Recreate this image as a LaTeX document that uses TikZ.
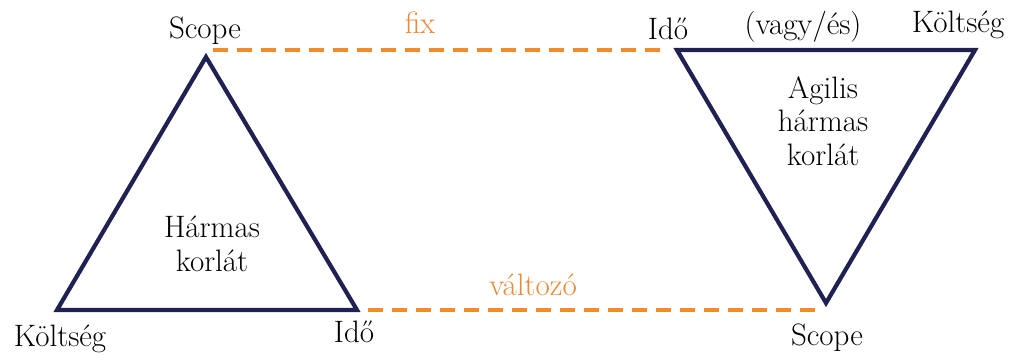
\documentclass[tikz,border=0pt]{standalone}
\usepackage{tikz}
\usetikzlibrary{positioning}
\definecolor{navy}{HTML}{1E2152}
\definecolor{dashorange}{HTML}{F28C28}
\definecolor{textorange}{HTML}{E8893A}

\begin{document}
\begin{tikzpicture}[x=0.5pt, y=-0.5pt,
    label text/.style={inner sep=0pt, font=\fontsize{15.5}{16.8}\selectfont},
    inside text/.style={label text, align=center},
    side/.style={draw=navy, line width=2.1pt},
    link/.style={draw=dashorange, line width=2pt, dash pattern=on 7.5pt off 4.5pt},
    link text/.style={label text, text=textorange}]
    \useasboundingbox (0,0) rectangle (1013,360);
    % classic triangle
    \coordinate (lscope) at (206,57);
    \coordinate (lcost) at (57,310);
    \coordinate (ltime) at (357,310);
    \draw [side] (lscope) -- (lcost) -- (ltime) -- cycle;
    \node [label text] (lscopelabel) at (205,31) {Scope};
    \node [label text] (lcostlabel) at (60,339) {Költség};
    \node [label text] (ltimelabel) at (354,332) {Idő};
    \node [inside text] (ltitle) at (212,244) {Hármas\\korlát};
    % agile triangle
    \coordinate (rtime) at (677,50);
    \coordinate (rcost) at (975,50);
    \coordinate (rscope) at (826,303);
    \draw [side] (rtime) -- (rcost) -- (rscope) -- cycle;
    \node [label text] (rtimelabel) at (668,29) {Idő};
    \node [label text] (orlabel) at (803,27) {(vagy/és)};
    \node [label text] (rcostlabel) at (958,25) {Költség};
    \node [label text] (rscopelabel) at (827,338) {Scope};
    \node [inside text] (rtitle) at (823,121) {Agilis\\hármas\\korlát};
    % dashed links
    \coordinate (fixstart) at (213,50);
    \coordinate (fixend) at (668,50);
    \coordinate (varstart) at (368,310);
    \coordinate (varend) at (815,310);
    \draw [link] (fixstart) -- (fixend);
    \draw [link] (varstart) -- (varend);
    \node [link text] (fixlabel) at (420,23) {fix};
    \node [link text] (varlabel) at (533,285) {változó};
\end{tikzpicture}
\end{document}
